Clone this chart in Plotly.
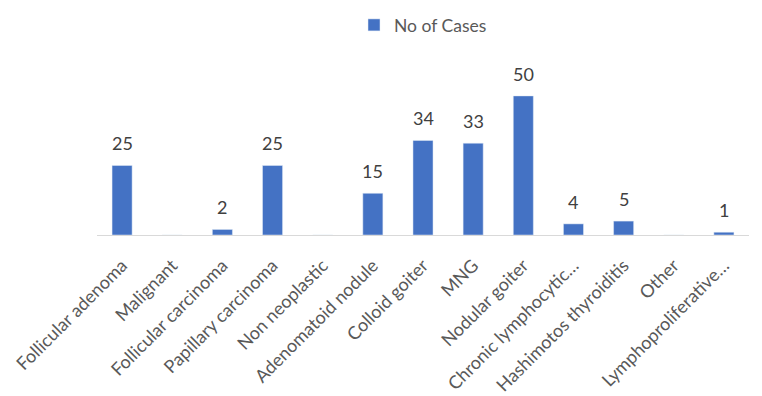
import plotly.graph_objects as go

categories = ["Follicular adenoma", "Malignant", "Follicular carcinoma", "Papillary carcinoma",
              "Non neoplastic", "Adenomatoid nodule", "Colloid goiter", "MNG", "Nodular goiter",
              "Chronic lymphocytic…", "Hashimotos thyroiditis", "Other", "Lymphoproliferative…"]
cases = [25, 0, 2, 25, 0, 15, 34, 33, 50, 4, 5, 0, 1]

FONT = "Lato"
fig = go.Figure(go.Bar(
    x=categories, y=cases, name="No of Cases",
    marker_color="#4472C4",
))
for c, v in zip(categories, cases):
    if v:
        fig.add_annotation(x=c, y=v, xref="x", yref="y", text=str(v), showarrow=False,
                           yanchor="bottom", yshift=9,
                           font=dict(size=18, color="#404040", family=FONT))
fig.update_layout(
    width=762, height=396,
    margin=dict(l=97, r=13, t=50, b=161, autoexpand=False),
    paper_bgcolor="white", plot_bgcolor="white",
    bargap=0.6,
    showlegend=True,
    legend=dict(orientation="h", x=0.5, xanchor="center", y=1.135, yanchor="middle",
                font=dict(size=17.5, color="#595959", family=FONT), itemwidth=30),
    font=dict(family=FONT, color="#595959"),
)
fig.update_xaxes(tickangle=-45, tickfont=dict(size=18, color="#595959", family=FONT),
                 ticklabelstandoff=12,
                 showline=True, linecolor="#D9D9D9", linewidth=1, ticks="", automargin=False)
fig.update_yaxes(range=[0, 66.5], visible=False)
fig.write_html("out.html", config={"displayModeBar": False},
               post_script="document.body.style.margin='0';")
